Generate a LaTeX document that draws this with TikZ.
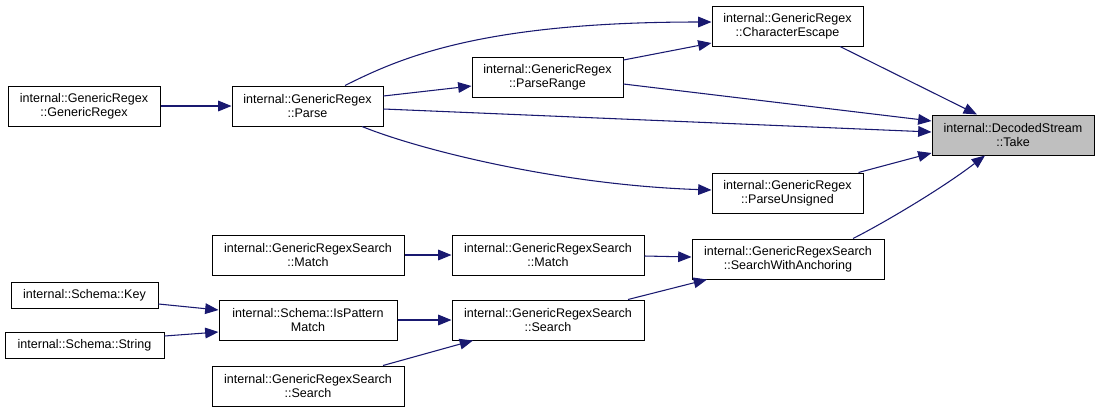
\documentclass[tikz,border=0pt]{standalone}
\usepackage{fontspec}
\setmainfont{Liberation Sans}
\usepackage{tikz}
\usetikzlibrary{calc, arrows.meta}
\usepackage{xcolor}
\definecolor{callblue}{HTML}{191970}
\definecolor{takegray}{HTML}{BFBFBF}

\begin{document}
\begin{tikzpicture}[x=0.75pt, y=-0.75pt,
                fn/.style={draw=black, line width=0.75pt, align=center, inner sep=0pt,
                    minimum width=#1*0.75pt, minimum height=30pt,
                    font=\fontsize{9.4}{10.8}\selectfont},
                call/.style={callblue, line width=0.8pt, -{Triangle[length=10pt, width=8pt]}}]
                \useasboundingbox (0,0) rectangle (1100,412);
                \node[fn=162, fill=takegray] (take) at (1013,135) {internal::DecodedStream\\::Take};
                \node[fn=151] (charesc) at (787.5,26) {internal::GenericRegex\\::CharacterEscape};
                \node[fn=151] (range) at (547.5,77) {internal::GenericRegex\\::ParseRange};
                \node[fn=151] (parse) at (307.5,106) {internal::GenericRegex\\::Parse};
                \node[fn=152] (ctor) at (84,106) {internal::GenericRegex\\::GenericRegex};
                \node[fn=151] (unsigned) at (787.5,193) {internal::GenericRegex\\::ParseUnsigned};
                \node[fn=192] (anchor) at (788,259) {internal::GenericRegexSearch\\::SearchWithAnchoring};
                \node[fn=192] (matchB) at (548,255) {internal::GenericRegexSearch\\::Match};
                \node[fn=192] (searchB) at (548,320) {internal::GenericRegexSearch\\::Search};
                \node[fn=192] (matchA) at (308,255) {internal::GenericRegexSearch\\::Match};
                \node[fn=178] (pattern) at (308,320) {internal::Schema::IsPattern\\Match};
                \node[fn=192] (searchA) at (308,386) {internal::GenericRegexSearch\\::Search};
                \node[fn=147, minimum height=19.5pt] (key) at (84.5,295) {internal::Schema::Key};
                \node[fn=159, minimum height=19.5pt] (string) at (84.5,345.5) {internal::Schema::String};
                \draw[call] (ctor) -- (parse);
                \draw[call] ($(parse.north)+(37.5,0)$) .. controls (400,58) and (480,22) .. ($(charesc.west)+(0,-4)$);
                \draw[call] ($(parse.east)+(0,-10)$) -- ($(range.west)+(0,9)$);
                \draw[call] ($(parse.east)+(0,3)$) -- ($(take.west)+(0,-3)$);
                \draw[call] ($(parse.south)+(54.5,0)$) .. controls (420,150) and (560,185) .. ($(unsigned.west)+(0,-3)$);
                \draw[call] ($(range.east)+(0,-17)$) -- ($(charesc.west)+(0,17)$);
                \draw[call] ($(range.east)+(0,7)$) -- ($(take.west)+(0,-14)$);
                \draw[call] ($(charesc.south)+(52.5,0)$) -- ($(take.north)+(-36,0)$);
                \draw[call] ($(unsigned.north east)+(-5,0)$) -- ($(take.west)+(0,18)$);
                \draw[call] ($(anchor.north)+(65,0)$) .. controls (880,225) and (940,190) .. ($(take.south)+(-28,0)$);
                \draw[call] ($(matchB.east)+(0,1)$) -- ($(anchor.west)+(0,-2)$);
                \draw[call] ($(searchB.north)+(80,0)$) -- ($(anchor.south)+(-81,0)$);
                \draw[call] (matchA) -- (matchB);
                \draw[call] (pattern) -- (searchB);
                \draw[call] ($(searchA.north)+(75,0)$) -- ($(searchB.south)+(-75,0)$);
                \draw[call] ($(key.east)+(0,9)$) -- ($(pattern.west)+(0,-10)$);
                \draw[call] ($(string.east)+(0,-9.5)$) -- ($(pattern.west)+(0,12)$);
            \end{tikzpicture}
\end{document}
